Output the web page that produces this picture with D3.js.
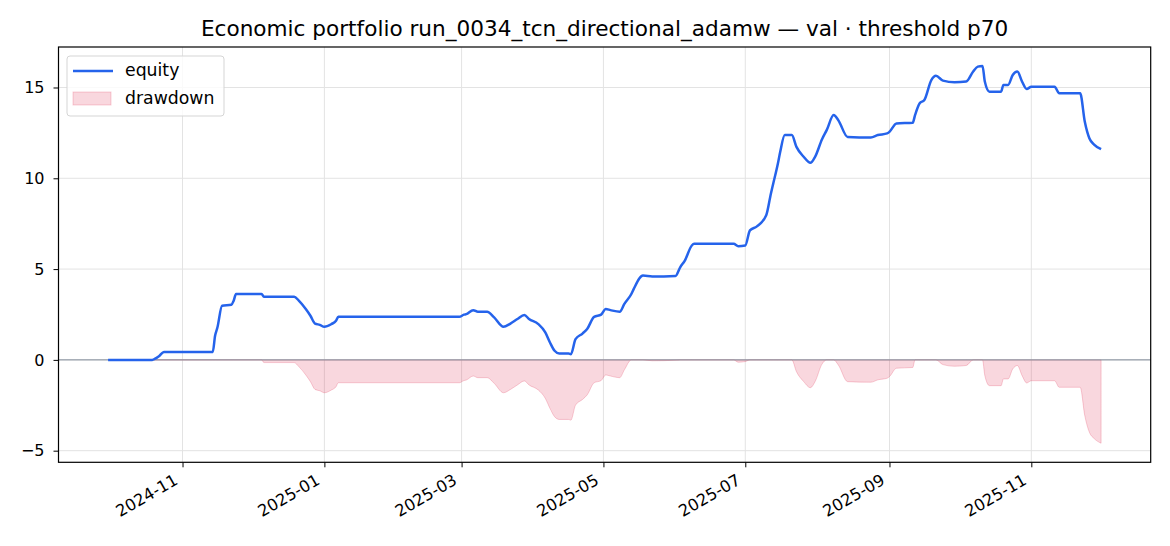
<!DOCTYPE html>
<html>
<head>
<meta charset="utf-8">
<script src="https://cdn.jsdelivr.net/npm/d3@7"></script>
<style>
  body { margin: 0; background: #fff; }
  text { font-family: "DejaVu Sans", sans-serif; }
</style>
</head>
<body>
<div id="chart"></div>
<script>
// values
const dates = [
  "2024-09-30","2024-10-19","2024-10-20","2024-10-22","2024-10-24","2024-11-14","2024-11-15","2024-11-16",
  "2024-11-18","2024-11-22","2024-11-23","2024-11-24","2024-12-05","2024-12-06","2024-12-19","2024-12-21",
  "2024-12-24","2024-12-26","2024-12-28","2024-12-30","2025-01-01","2025-01-04","2025-01-06","2025-01-07",
  "2025-02-28","2025-03-02","2025-03-03","2025-03-06","2025-03-08","2025-03-12","2025-03-15","2025-03-19",
  "2025-03-22","2025-03-25","2025-03-28","2025-03-30","2025-04-03","2025-04-06","2025-04-08","2025-04-10",
  "2025-04-12","2025-04-16","2025-04-17","2025-04-19","2025-04-22","2025-04-24","2025-04-27","2025-04-30",
  "2025-05-02","2025-05-04","2025-05-08","2025-05-10","2025-05-13","2025-05-14","2025-05-18","2025-05-22",
  "2025-06-01","2025-06-03","2025-06-05","2025-06-08","2025-06-09","2025-06-26","2025-06-28","2025-07-01",
  "2025-07-03","2025-07-06","2025-07-10","2025-07-12","2025-07-13","2025-07-15","2025-07-16","2025-07-18",
  "2025-07-21","2025-07-23","2025-07-26","2025-07-29","2025-07-31","2025-08-03","2025-08-05","2025-08-08",
  "2025-08-10","2025-08-14","2025-08-24","2025-08-27","2025-08-31","2025-09-01","2025-09-04","2025-09-11",
  "2025-09-12","2025-09-14","2025-09-16","2025-09-19","2025-09-21","2025-09-24","2025-09-29","2025-10-04",
  "2025-10-07","2025-10-09","2025-10-11","2025-10-12","2025-10-14","2025-10-19","2025-10-20","2025-10-22",
  "2025-10-24","2025-10-26","2025-10-28","2025-10-30","2025-11-01","2025-11-11","2025-11-13","2025-11-22",
  "2025-11-24","2025-11-26","2025-11-28","2025-12-01"
];
const equity = [
  0, 0, 0.05, 0.22, 0.44, 0.44, 1.33, 1.78,
  2.98, 3.04, 3.26, 3.63, 3.63, 3.48, 3.48, 3.26,
  2.80, 2.43, 2.00, 1.93, 1.82, 1.97, 2.15, 2.37,
  2.37, 2.49, 2.52, 2.74, 2.65, 2.65, 2.34, 1.82,
  2.00, 2.25, 2.47, 2.25, 1.97, 1.51, 0.96, 0.50,
  0.35, 0.35, 0.31, 1.14, 1.45, 1.70, 2.37, 2.49,
  2.80, 2.74, 2.65, 3.08, 3.63, 3.90, 4.64, 4.59,
  4.62, 5.10, 5.47, 6.30, 6.39, 6.39, 6.26, 6.30,
  7.13, 7.35, 7.96, 9.15, 9.70, 10.80, 11.45, 12.38,
  12.38, 11.73, 11.20, 10.85, 11.18, 12.15, 12.65, 13.48,
  13.20, 12.28, 12.25, 12.38, 12.47, 12.56, 13.02, 13.06,
  13.48, 14.13, 14.31, 15.41, 15.64, 15.38, 15.29, 15.33,
  15.88, 16.15, 16.19, 15.33, 14.77, 14.77, 15.14, 15.14,
  15.69, 15.88, 15.33, 14.92, 15.04, 15.04, 14.68, 14.68,
  13.11, 12.19, 11.86, 11.60
];
const drawdown = [
  0, 0, 0, 0, 0, 0, 0, 0,
  0, 0, 0, 0, 0, -0.15, -0.15, -0.37,
  -0.83, -1.20, -1.63, -1.70, -1.81, -1.66, -1.48, -1.26,
  -1.26, -1.14, -1.11, -0.89, -0.98, -0.98, -1.29, -1.81,
  -1.63, -1.38, -1.16, -1.38, -1.66, -2.12, -2.67, -3.13,
  -3.28, -3.28, -3.32, -2.49, -2.18, -1.93, -1.26, -1.14,
  -0.83, -0.89, -0.98, -0.55, 0, 0, 0, -0.05,
  -0.02, 0, 0, 0, 0, 0, -0.13, -0.09,
  0, 0, 0, 0, 0, 0, 0, 0,
  0, -0.65, -1.18, -1.53, -1.20, -0.23, 0, 0,
  -0.28, -1.20, -1.23, -1.10, -1.01, -0.92, -0.46, -0.42,
  0, 0, 0, 0, 0, -0.26, -0.35, -0.31,
  0, 0, 0, -0.86, -1.42, -1.42, -1.05, -1.05,
  -0.50, -0.31, -0.86, -1.27, -1.15, -1.15, -1.51, -1.51,
  -3.08, -4.00, -4.33, -4.59
];
const xTickLabels = ["2024-11", "2025-01", "2025-03", "2025-05", "2025-07", "2025-09", "2025-11"];
const yTickValues = [-5, 0, 5, 10, 15];
const title = "Economic portfolio run_0034_tcn_directional_adamw \u2014 val \u00b7 threshold p70";

const width = 1170, height = 546;
const margin = { top: 47, right: 19.3, bottom: 83.7, left: 58.5 };
const parse = d3.timeParse("%Y-%m-%d");
const parseMonth = d3.timeParse("%Y-%m");

const rows = dates.map((d, i) => ({ date: parse(d), eq: equity[i], dd: drawdown[i] }));

const svg = d3.select("#chart").append("svg")
  .attr("width", width)
  .attr("height", height);

const x = d3.scaleTime()
  .domain([new Date(2024, 8, 8, 16), new Date(2025, 11, 22, 8)])
  .range([margin.left, width - margin.right]);
const y = d3.scaleLinear()
  .domain([-5.64, 17.23])
  .range([height - margin.bottom, margin.top]);

const tickDates = xTickLabels.map(parseMonth);

// grid
svg.append("g").selectAll("line.vg")
  .data(tickDates).enter().append("line")
  .attr("x1", d => x(d)).attr("x2", d => x(d))
  .attr("y1", margin.top).attr("y2", height - margin.bottom)
  .attr("stroke", "#e3e3e3").attr("stroke-width", 1);
svg.append("g").selectAll("line.hg")
  .data(yTickValues).enter().append("line")
  .attr("x1", margin.left).attr("x2", width - margin.right)
  .attr("y1", d => y(d)).attr("y2", d => y(d))
  .attr("stroke", "#e3e3e3").attr("stroke-width", 1);

// drawdown fill
const area = d3.area()
  .x(d => x(d.date))
  .y0(y(0))
  .y1(d => y(d.dd))
  .curve(d3.curveMonotoneX);
svg.append("path")
  .datum(rows)
  .attr("d", area)
  .attr("fill", "#dc143c").attr("fill-opacity", 0.17)
  .attr("stroke", "#dc143c").attr("stroke-opacity", 0.2).attr("stroke-width", 1);

// zero line
svg.append("line")
  .attr("x1", margin.left).attr("x2", width - margin.right)
  .attr("y1", y(0)).attr("y2", y(0))
  .attr("stroke", "#7f8a99").attr("stroke-width", 1);

// equity line
const line = d3.line()
  .x(d => x(d.date))
  .y(d => y(d.eq))
  .curve(d3.curveMonotoneX);
svg.append("path")
  .datum(rows)
  .attr("d", line)
  .attr("fill", "none")
  .attr("stroke", "#2563eb")
  .attr("stroke-width", 2.5)
  .attr("stroke-linejoin", "round");

// axes
const xAxis = svg.append("g")
  .attr("transform", `translate(0,${height - margin.bottom})`)
  .call(d3.axisBottom(x).tickValues(tickDates).tickFormat(d3.timeFormat("%Y-%m")).tickSize(5).tickSizeOuter(0));
xAxis.select(".domain").remove();
xAxis.selectAll("line").attr("stroke", "#000").attr("stroke-width", 1);
xAxis.selectAll("text")
  .attr("font-size", 16.3)
  .attr("fill", "#000")
  .attr("text-anchor", "end")
  .attr("x", 0).attr("y", 0)
  .attr("dy", "0")
  .attr("transform", "translate(-4,21) rotate(-30)");

const yAxis = svg.append("g")
  .attr("transform", `translate(${margin.left},0)`)
  .call(d3.axisLeft(y).tickValues(yTickValues).tickFormat(d => d < 0 ? "\u2212" + Math.abs(d) : d).tickSize(5).tickPadding(9));
yAxis.select(".domain").remove();
yAxis.selectAll("line").attr("stroke", "#000").attr("stroke-width", 1);
yAxis.selectAll("text").attr("font-size", 16).attr("fill", "#000");

// frame
svg.append("rect")
  .attr("x", margin.left).attr("y", margin.top)
  .attr("width", width - margin.left - margin.right)
  .attr("height", height - margin.top - margin.bottom)
  .attr("fill", "none").attr("stroke", "#000").attr("stroke-width", 1.2);

// title
svg.append("text")
  .attr("x", (margin.left + width - margin.right) / 2)
  .attr("y", 36)
  .attr("text-anchor", "middle")
  .attr("font-size", 21.6)
  .attr("fill", "#000")
  .text(title);

// legend
const lg = svg.append("g").attr("transform", "translate(67,56)");
lg.append("rect")
  .attr("width", 157).attr("height", 60).attr("rx", 3)
  .attr("fill", "#fff").attr("fill-opacity", 0.8)
  .attr("stroke", "#d5d5d5").attr("stroke-width", 1);
lg.append("line")
  .attr("x1", 6).attr("x2", 46).attr("y1", 15).attr("y2", 15)
  .attr("stroke", "#2563eb").attr("stroke-width", 2.5);
lg.append("text").attr("x", 58).attr("y", 20).attr("font-size", 17.3).text("equity");
lg.append("rect")
  .attr("x", 6).attr("y", 36).attr("width", 38).attr("height", 13)
  .attr("fill", "#dc143c").attr("fill-opacity", 0.17)
  .attr("stroke", "#dc143c").attr("stroke-opacity", 0.2);
lg.append("text").attr("x", 58).attr("y", 48).attr("font-size", 17.3).text("drawdown");
</script>
</body>
</html>
